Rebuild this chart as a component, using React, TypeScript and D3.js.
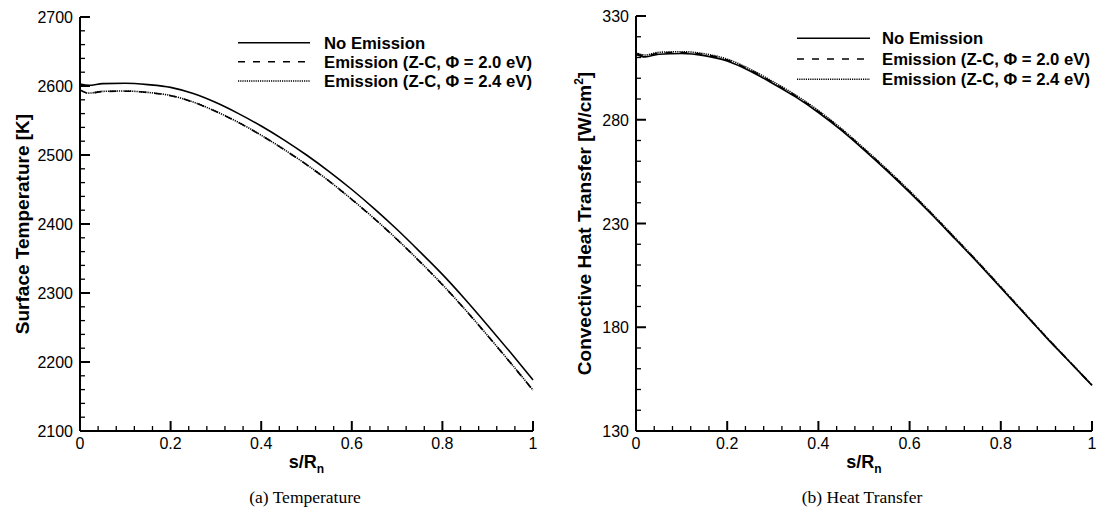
import React, { useEffect, useRef } from "react";
import * as d3 from "d3";

// ---------- data ----------
const sVals = [0, 0.02, 0.05, 0.1, 0.15, 0.2, 0.25, 0.3, 0.35, 0.4, 0.45, 0.5, 0.55, 0.6, 0.65, 0.7, 0.75, 0.8, 0.85, 0.9, 0.95, 1];

const tempNoEmission = [2603, 2601, 2603.5, 2604, 2602, 2598, 2589, 2576, 2560, 2542, 2522, 2500, 2476, 2450, 2422, 2392, 2360, 2327, 2291, 2253, 2214, 2174];
const tempEmission20 = [2594, 2589.5, 2592, 2592.5, 2590.5, 2586, 2576.5, 2563, 2547, 2528.5, 2508, 2486, 2462, 2435.5, 2407.5, 2377.5, 2345.5, 2312, 2276, 2238, 2199, 2159];
const tempEmission24 = [2594.2, 2589.7, 2592.2, 2592.7, 2590.7, 2586.2, 2576.7, 2563.2, 2547.2, 2528.7, 2508.2, 2486.2, 2462.2, 2435.7, 2407.7, 2377.7, 2345.7, 2312.2, 2276.2, 2238.2, 2199.2, 2159.2];

const heatNoEmission = [311.5, 310.3, 311.6, 311.9, 310.9, 308.3, 303.5, 297.5, 291, 283.5, 275, 265.5, 255.5, 245, 234, 222.5, 211, 199, 187, 175, 163.5, 152];
const heatEmission20 = [311.9, 310.8, 312.1, 312.4, 311.4, 308.8, 304, 298, 291.5, 284, 275.4, 265.9, 255.9, 245.4, 234.3, 222.8, 211.3, 199.3, 187.2, 175.2, 163.6, 152.1];
const heatEmission24 = [312.3, 311.2, 312.5, 312.8, 311.8, 309.2, 304.4, 298.4, 291.9, 284.4, 275.8, 266.2, 256.2, 245.7, 234.6, 223.1, 211.5, 199.5, 187.4, 175.3, 163.7, 152.2];

const seriesNames = ["No Emission", "Emission (Z-C, \u03A6 = 2.0 eV)", "Emission (Z-C, \u03A6 = 2.4 eV)"];
const xTickLabels = ["0", "0.2", "0.4", "0.6", "0.8", "1"];
const tempTicks = [2100, 2200, 2300, 2400, 2500, 2600, 2700];
const heatTicks = [130, 180, 230, 280, 330];

const FONT = "'Liberation Sans', Arial, Helvetica, sans-serif";
const dashStyles = ["none", "7,8", "1.2,1"];

type PanelCfg = {
  x0: number; x1: number; yTop: number; yBot: number;
  yDomain: [number, number]; yTicks: number[]; yMinorStep: number;
  series: number[][]; yTitle: string; yTitleSup?: string; titleX: number;
  legendX0: number; legendX1: number; legendTextX: number; legendY: number[];
  caption: string; captionX: number;
};

const panels: PanelCfg[] = [
  {
    x0: 80, x1: 533, yTop: 17, yBot: 431, yDomain: [2100, 2700], yTicks: tempTicks, yMinorStep: 20,
    series: [tempNoEmission, tempEmission20, tempEmission24], yTitle: "Surface Temperature [K]", titleX: 29,
    legendX0: 238, legendX1: 310, legendTextX: 324, legendY: [42.7, 61.7, 81],
    caption: "(a) Temperature", captionX: 305,
  },
  {
    x0: 636, x1: 1092, yTop: 16, yBot: 431, yDomain: [130, 330], yTicks: heatTicks, yMinorStep: 10,
    series: [heatNoEmission, heatEmission20, heatEmission24], yTitle: "Convective Heat Transfer [W/cm", yTitleSup: "2", titleX: 591,
    legendX0: 797, legendX1: 870, legendTextX: 882, legendY: [38.3, 59, 79.3],
    caption: "(b) Heat Transfer", captionX: 862,
  },
];

export default function App() {
  const ref = useRef<SVGSVGElement | null>(null);

  useEffect(() => {
    const svg = d3.select(ref.current);
    svg.selectAll("*").remove();

    panels.forEach((p) => {
      const x = d3.scaleLinear().domain([0, 1]).range([p.x0, p.x1]);
      const y = d3.scaleLinear().domain(p.yDomain).range([p.yBot, p.yTop]);
      const g = svg.append("g");

      // curves
      const line = d3.line<number>()
        .x((_, i) => x(sVals[i]))
        .y((d) => y(d))
        .curve(d3.curveMonotoneX);
      p.series.forEach((vals, k) => {
        g.append("path")
          .attr("d", line(vals) as string)
          .attr("fill", "none")
          .attr("stroke", "#000")
          .attr("stroke-width", k === 2 ? 1.6 : 1.6)
          .attr("stroke-dasharray", dashStyles[k]);
      });

      // axes lines
      g.append("line").attr("x1", p.x0).attr("x2", p.x1).attr("y1", p.yBot).attr("y2", p.yBot)
        .attr("stroke", "#000").attr("stroke-width", 2);
      g.append("line").attr("x1", p.x0).attr("x2", p.x0).attr("y1", p.yTop).attr("y2", p.yBot)
        .attr("stroke", "#000").attr("stroke-width", 2);

      // x ticks
      const xMinor = d3.range(0, 1.0001, 0.04);
      xMinor.forEach((v) => {
        const major = Math.abs(v * 5 - Math.round(v * 5)) < 1e-6;
        g.append("line").attr("x1", x(v)).attr("x2", x(v))
          .attr("y1", p.yBot).attr("y2", p.yBot - (major ? 10 : 5))
          .attr("stroke", "#000").attr("stroke-width", major ? 2 : 1.3);
      });
      xTickLabels.forEach((lab, i) => {
        g.append("text").attr("x", x(i * 0.2)).attr("y", p.yBot + 18)
          .attr("text-anchor", "middle").attr("font-family", FONT).attr("font-size", 16)
          .text(lab);
      });

      // y ticks
      const [ymin, ymax] = p.yDomain;
      const yMinor = d3.range(ymin, ymax + 0.001, p.yMinorStep);
      yMinor.forEach((v) => {
        const major = p.yTicks.includes(v);
        g.append("line").attr("x1", p.x0).attr("x2", p.x0 + (major ? 10 : 5))
          .attr("y1", y(v)).attr("y2", y(v))
          .attr("stroke", "#000").attr("stroke-width", major ? 2 : 1.3);
      });
      p.yTicks.forEach((v) => {
        g.append("text").attr("x", p.x0 - 7).attr("y", y(v) + 6)
          .attr("text-anchor", "end").attr("font-family", FONT).attr("font-size", 16)
          .text(String(v));
      });

      // x title
      const xt = g.append("text").attr("x", (p.x0 + p.x1) / 2).attr("y", p.yBot + 37)
        .attr("text-anchor", "middle").attr("font-family", FONT).attr("font-size", 18)
        .attr("font-weight", "bold");
      xt.append("tspan").text("s/R");
      xt.append("tspan").attr("font-size", 12).attr("dy", 5).text("n");

      // y title
      const yt = g.append("text")
        .attr("transform", `translate(${p.titleX},${(p.yTop + p.yBot) / 2}) rotate(-90)`)
        .attr("text-anchor", "middle").attr("font-family", FONT).attr("font-size", 19)
        .attr("font-weight", "bold");
      yt.append("tspan").text(p.yTitle);
      if (p.yTitleSup) {
        yt.append("tspan").attr("font-size", 12).attr("dy", -8).text(p.yTitleSup);
        yt.append("tspan").attr("dy", 8).text("]");
      }

      // legend
      seriesNames.forEach((name, k) => {
        const ly = p.legendY[k];
        g.append("line").attr("x1", p.legendX0).attr("x2", p.legendX1).attr("y1", ly).attr("y2", ly)
          .attr("stroke", "#000").attr("stroke-width", 1.6).attr("stroke-dasharray", dashStyles[k]);
        g.append("text").attr("x", p.legendTextX).attr("y", ly + 6)
          .attr("font-family", FONT).attr("font-size", 16.7).attr("font-weight", "bold")
          .text(name);
      });

      // caption
      g.append("text").attr("x", p.captionX).attr("y", 503)
        .attr("text-anchor", "middle").attr("font-family", "'Liberation Serif', 'DejaVu Serif', serif")
        .attr("font-size", 17.5).text(p.caption);
    });
  }, []);

  return (
    <svg ref={ref} width={1103} height={518}
      style={{ position: "absolute", left: 0, top: 0, background: "#fff" }} />
  );
}
